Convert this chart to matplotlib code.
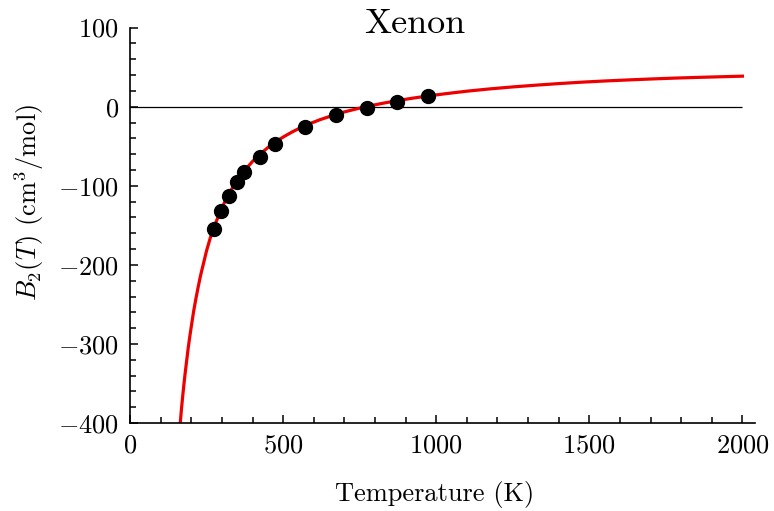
import matplotlib
matplotlib.use('Agg')
import matplotlib.pyplot as plt
from matplotlib.ticker import MultipleLocator

plt.rcParams['font.family'] = 'serif'
plt.rcParams['font.serif'] = ['cmr10']
plt.rcParams['mathtext.fontset'] = 'cm'
plt.rcParams['axes.formatter.use_mathtext'] = True

# Measured second virial coefficient of xenon
temp_data = [273, 298, 323, 348, 373, 423, 473, 573, 673, 773, 873, 973]
b2_data = [-155, -131.5, -112.5, -95.5, -83, -63.5, -47, -25.3, -10.5, -1.2, 6.3, 13.4]

# Fitted curve
temp_fit = [164, 168, 172, 176, 180, 185, 190, 195, 200, 208, 215, 222, 230, 240,
            250, 262, 275, 290, 300, 315, 330, 345, 360, 380, 400, 425, 450, 475,
            500, 530, 560, 590, 620, 660, 700, 740, 780, 825, 870, 920, 970, 1030,
            1100, 1175, 1250, 1325, 1400, 1475, 1550, 1625, 1700, 1775, 1850, 1925, 2000]
b2_fit = [-400, -382, -366, -351, -337, -321, -305, -291, -278, -258, -243, -229, -214, -198,
          -182, -166, -151.5, -137, -127.8, -116, -105.3, -96, -87.6, -78, -69.2, -60, -51.7, -44.6,
          -38.4, -31.8, -26, -21, -16.5, -11.3, -6.6, -2.7, 0.8, 4.3, 7.5, 10.6, 13.4, 16.4,
          19.6, 22.5, 25, 27.2, 29.2, 31, 32.5, 33.8, 35, 36.1, 37, 37.8, 38.6]

fig = plt.figure(figsize=(7.74, 5.11), dpi=100)
ax = fig.add_axes([0.168, 0.172, 0.807, 0.774])

ax.hlines(0, 0, 2000, color='black', lw=0.9)
ax.plot(temp_fit, b2_fit, color='#ee0000', lw=2.3, zorder=2)
ax.plot(temp_data, b2_data, 'o', color='black', markersize=10, zorder=3)

ax.set_xlim(0, 2040)
ax.set_ylim(-400, 100)
ax.xaxis.set_major_locator(MultipleLocator(500))
ax.xaxis.set_minor_locator(MultipleLocator(100))
ax.yaxis.set_major_locator(MultipleLocator(100))
ax.yaxis.set_minor_locator(MultipleLocator(20))

for side in ['top', 'right']:
    ax.spines[side].set_visible(False)
for side in ['left', 'bottom']:
    ax.spines[side].set_linewidth(1.2)
ax.tick_params(which='both', direction='in', width=1.1, labelsize=19, pad=8)
ax.tick_params(which='major', length=6)
ax.tick_params(which='minor', length=4)

ax.set_xlabel('Temperature (K)', fontsize=19)
ax.xaxis.set_label_coords(0.488, -0.147)
ax.set_ylabel(r'$B_2(T)$ (cm$^3$/mol)', fontsize=19)
ax.yaxis.set_label_coords(-0.135, 0.557)

ax.text(0.456, 0.987, 'Xenon', transform=ax.transAxes, ha='center',
        va='baseline', fontsize=26)

fig.savefig('out.png', dpi=100)
